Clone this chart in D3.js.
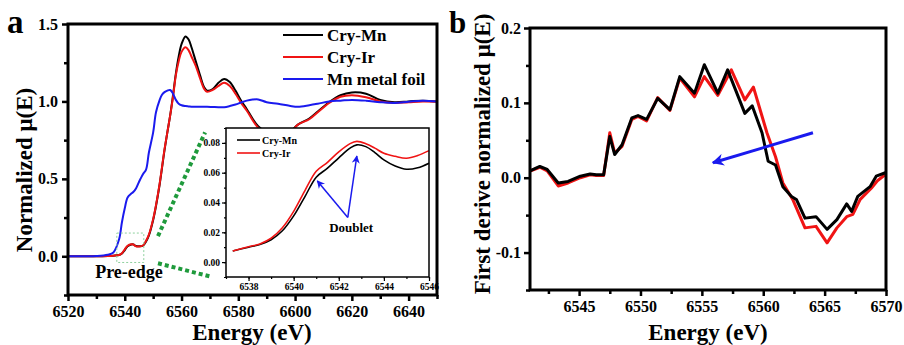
<!DOCTYPE html>
<html><head><meta charset="utf-8">
<script src="https://cdn.jsdelivr.net/npm/d3@7"></script>
<style>
body{margin:0;background:#fff}
svg text{font-family:"Liberation Serif","Times New Roman",serif;font-weight:bold;fill:#000}
</style>
</head><body>
<svg id="c" width="904" height="345"></svg>
<script>
// ---------- Panel a: XANES ----------
const energyA = [6520,6530,6534,6536,6538,6539,6540,6541,6542.3,6543,6544,6545,6546.4,6547.5,6548.5,6550,6551,6552.3,6553,6554,6555,6556,6557,6558,6559,6560,6561.4,6562.5,6563.5,6565,6566.5,6568,6569,6571,6573,6575,6577,6579,6581,6583,6585,6587,6590,6594,6598,6601,6605,6608,6612,6616,6620,6625,6630,6635,6640,6645,6650];
const cryMnA = [0,0,0.002,0.004,0.008,0.018,0.04,0.065,0.076,0.077,0.066,0.065,0.068,0.095,0.135,0.235,0.325,0.465,0.555,0.685,0.8,0.91,1.04,1.18,1.29,1.37,1.42,1.4,1.35,1.26,1.17,1.09,1.07,1.08,1.12,1.145,1.125,1.07,1.005,0.95,0.89,0.84,0.8,0.78,0.8,0.85,0.89,0.935,0.995,1.04,1.058,1.05,1.01,0.995,1.0,1.005,1.0];
const cryIrA = [0,0,0.002,0.004,0.008,0.02,0.045,0.068,0.077,0.076,0.064,0.063,0.07,0.1,0.14,0.24,0.33,0.47,0.56,0.69,0.8,0.91,1.03,1.17,1.26,1.32,1.35,1.33,1.29,1.23,1.15,1.08,1.062,1.074,1.1,1.12,1.1,1.05,0.99,0.94,0.88,0.83,0.79,0.77,0.79,0.85,0.885,0.93,0.99,1.03,1.04,1.027,1.0,0.99,0.995,1.0,0.998];
const foilA = [0,0.002,0.01,0.025,0.11,0.22,0.31,0.38,0.405,0.415,0.44,0.48,0.53,0.56,0.67,0.8,0.93,1.01,1.04,1.06,1.07,1.074,1.05,1.01,0.985,0.975,0.97,0.968,0.966,0.965,0.965,0.965,0.965,0.964,0.963,0.963,0.97,0.98,0.993,1.005,1.012,1.013,0.995,0.985,0.972,0.965,0.975,0.985,1.0,1.005,1.01,1.005,0.995,0.99,0.998,1.005,1.0];
const xTicksA = [6520,6540,6560,6580,6600,6620,6640];
const yTicksA = [0,0.5,1.0,1.5];

// ---------- Inset: pre-edge ----------
const energyInset = [6537.3,6538,6538.5,6539,6539.5,6540,6540.5,6541,6541.5,6542,6542.5,6542.8,6543.2,6543.6,6544,6544.5,6545,6545.5,6546];
const cryMnInset = [0.0075,0.0100,0.0118,0.0150,0.021,0.031,0.044,0.057,0.063,0.070,0.0765,0.0787,0.0775,0.0735,0.0686,0.0645,0.0623,0.0633,0.0664];
const cryIrInset = [0.0075,0.0103,0.0122,0.016,0.023,0.034,0.048,0.061,0.067,0.074,0.0795,0.081,0.0795,0.0765,0.073,0.071,0.0697,0.0715,0.0748];
const xTicksInset = [6538,6540,6542,6544,6546];
const yTicksInset = [0,0.02,0.04,0.06,0.08];

// ---------- Panel b: first derivative ----------
const energyMnB = [6541,6541.8,6542.4,6543.3,6544.1,6545.1,6545.9,6546.4,6547.0,6547.5,6547.9,6548.5,6549.3,6549.8,6550.5,6551.4,6552.4,6553.2,6554.4,6555.2,6556.3,6557.1,6558.5,6559.1,6559.9,6560.4,6561.0,6561.6,6562.3,6562.7,6563.4,6564.3,6565.2,6566.0,6566.8,6567.2,6567.7,6568.7,6569.2,6570];
const cryMnB = [0.009,0.015,0.011,-0.007,-0.005,0.002,0.005,0.004,0.004,0.055,0.031,0.044,0.080,0.083,0.078,0.106,0.091,0.135,0.113,0.151,0.113,0.144,0.086,0.096,0.060,0.022,0.017,-0.012,-0.025,-0.029,-0.054,-0.052,-0.069,-0.056,-0.035,-0.045,-0.025,-0.012,0.002,0.007];
const energyIrB = [6541,6541.8,6542.4,6543.3,6544.1,6545.1,6545.9,6546.4,6547.0,6547.5,6547.9,6548.5,6549.3,6549.8,6550.5,6551.4,6552.4,6553.2,6554.4,6555.2,6556.3,6557.4,6558.5,6559.2,6560.3,6561.0,6561.6,6562.4,6563.4,6564.3,6565.2,6566.0,6566.8,6567.3,6567.9,6568.8,6569.3,6570];
const cryIrB = [0.009,0.014,0.009,-0.011,-0.007,0.0,0.004,0.003,0.003,0.060,0.033,0.042,0.078,0.082,0.076,0.107,0.090,0.133,0.108,0.135,0.110,0.144,0.104,0.121,0.060,0.028,-0.007,-0.029,-0.067,-0.065,-0.087,-0.067,-0.052,-0.049,-0.029,-0.014,-0.004,0.005];
const xTicksB = [6545,6550,6555,6560,6565,6570];
const yTicksB = [-0.1,0.0,0.1,0.2];

const BLACK = "#000", RED = "#f01414", BLUE = "#1a1aee", GREEN = "#1f9a3c";

const svg = d3.select("#c");
const defs = svg.append("defs");
function arrowMarker(id, w, h){
  defs.append("marker").attr("id", id).attr("viewBox", "0 0 10 10")
    .attr("refX", 9).attr("refY", 5).attr("markerUnits", "userSpaceOnUse")
    .attr("markerWidth", w).attr("markerHeight", h).attr("orient", "auto")
    .append("path").attr("d", "M0,0 L10,5 L0,10 L3,5 Z").attr("fill", BLUE);
}
arrowMarker("arrBig", 16, 12);
arrowMarker("arrSmall", 10, 8);

function axes(g, x, y, o){
  const [y0] = y.range(); const [x0] = x.range();
  // minor
  g.append("g").attr("transform", `translate(0,${y0})`)
    .call(d3.axisBottom(x).tickValues(o.xMinor).tickSize(o.minorLen).tickFormat(""))
    .call(s => s.select(".domain").remove());
  g.append("g").attr("transform", `translate(${x0},0)`)
    .call(d3.axisLeft(y).tickValues(o.yMinor).tickSize(o.minorLen).tickFormat(""))
    .call(s => s.select(".domain").remove());
  const xa = g.append("g").attr("transform", `translate(0,${y0})`)
    .call(d3.axisBottom(x).tickValues(o.xTicks).tickSize(o.majorLen).tickPadding(o.xPad).tickFormat(o.xFmt))
    .call(s => s.select(".domain").remove());
  const ya = g.append("g").attr("transform", `translate(${x0},0)`)
    .call(d3.axisLeft(y).tickValues(o.yTicks).tickSize(o.majorLen).tickPadding(o.yPad).tickFormat(o.yFmt))
    .call(s => s.select(".domain").remove());
  g.selectAll(".tick line").attr("stroke", "#000").attr("stroke-width", o.tickW);
  g.selectAll(".tick text").attr("font-size", o.fs).attr("font-family", null).attr("fill", "#000");
  const [xl, xr] = x.range(), [yb, yt] = y.range();
  g.append("rect").attr("x", xl).attr("y", yt).attr("width", xr - xl).attr("height", yb - yt)
    .attr("fill", "none").attr("stroke", "#000").attr("stroke-width", o.frameW);
}
function range(a, b, s){ const r = []; for (let v = a; v <= b + 1e-9; v += s) r.push(+v.toFixed(4)); return r; }

// ===== Panel a =====
const xA = d3.scaleLinear().domain([6520, 6650]).range([68, 437]);
const yA = d3.scaleLinear().domain([-0.25, 1.5]).range([295, 24]);
const gA = svg.append("g");
defs.append("clipPath").attr("id", "clipA").append("rect")
  .attr("x", 68).attr("y", 24).attr("width", 369).attr("height", 271);
const lineA = d3.line().curve(d3.curveCatmullRom.alpha(0.5));
const seriesA = [[cryMnA, BLACK], [cryIrA, RED], [foilA, BLUE]];
seriesA.forEach(([vals, col]) => {
  gA.append("path").attr("clip-path", "url(#clipA)")
    .attr("d", lineA(energyA.map((e, i) => [xA(e), yA(vals[i])])))
    .attr("fill", "none").attr("stroke", col).attr("stroke-width", 2);
});
axes(gA, xA, yA, {xTicks: xTicksA, yTicks: yTicksA, xMinor: range(6530, 6650, 20), yMinor: [-0.25, 0.25, 0.75, 1.25],
  majorLen: 6, minorLen: 4, xPad: 5, yPad: 4, tickW: 2.5, frameW: 3, fs: 16,
  xFmt: d3.format("d"), yFmt: d => d.toFixed(1)});

// pre-edge box and dotted zoom lines
gA.append("rect").attr("x", xA(6537.2)).attr("y", yA(0.15)).attr("width", xA(6546.7) - xA(6537.2))
  .attr("height", yA(-0.04) - yA(0.15)).attr("fill", "none").attr("stroke", "#8fd19e")
  .attr("stroke-width", 1).attr("stroke-dasharray", "2,2");
[[[6551.7, 0.13], [6568.3, 0.80]], [[6551.7, -0.045], [6570.0, -0.13]]].forEach(([p, q]) => {
  gA.append("line").attr("x1", xA(p[0])).attr("y1", yA(p[1])).attr("x2", xA(q[0])).attr("y2", yA(q[1]))
    .attr("stroke", GREEN).attr("stroke-width", 4).attr("stroke-dasharray", "4,3");
});
gA.append("text").attr("x", xA(6541.5)).attr("y", yA(-0.14)).attr("text-anchor", "middle")
  .attr("font-size", 18).text("Pre-edge");

// legend a
const legA = [["Cry-Mn", BLACK], ["Cry-Ir", RED], ["Mn metal foil", BLUE]];
legA.forEach(([t, c], i) => {
  const yy = 35 + i * 22;
  gA.append("line").attr("x1", 283).attr("x2", 323).attr("y1", yy).attr("y2", yy).attr("stroke", c).attr("stroke-width", 2);
  gA.append("text").attr("x", 327).attr("y", yy + 6).attr("font-size", 17).text(t);
});

// ===== Inset =====
const xI = d3.scaleLinear().domain([6537, 6546]).range([226, 429]);
const yI = d3.scaleLinear().domain([-0.01, 0.09]).range([277, 128]);
const gI = svg.append("g");
gI.append("rect").attr("x", 226).attr("y", 128).attr("width", 203).attr("height", 149).attr("fill", "#fff");
const lineI = d3.line().curve(d3.curveCatmullRom.alpha(0.5));
[[cryMnInset, BLACK], [cryIrInset, RED]].forEach(([vals, col]) => {
  gI.append("path").attr("d", lineI(energyInset.map((e, i) => [xI(e), yI(vals[i])])))
    .attr("fill", "none").attr("stroke", col).attr("stroke-width", 1.6);
});
axes(gI, xI, yI, {xTicks: xTicksInset, yTicks: yTicksInset, xMinor: range(6537, 6546, 1), yMinor: range(-0.01, 0.09, 0.01),
  majorLen: 4, minorLen: 2, xPad: 2, yPad: 2, tickW: 1.2, frameW: 1.5, fs: 9.5,
  xFmt: d3.format("d"), yFmt: d => d.toFixed(2)});
[["Cry-Mn", BLACK], ["Cry-Ir", RED]].forEach(([t, c], i) => {
  const yy = 140 + i * 13;
  gI.append("line").attr("x1", 237).attr("x2", 260).attr("y1", yy).attr("y2", yy).attr("stroke", c).attr("stroke-width", 1.6);
  gI.append("text").attr("x", 262).attr("y", yy + 3.5).attr("font-size", 10).text(t);
});
[[6541.05, 0.0545], [6542.8, 0.0712]].forEach(q => {
  gI.append("line").attr("x1", xI(6542.4)).attr("y1", yI(0.030)).attr("x2", xI(q[0])).attr("y2", yI(q[1]))
    .attr("stroke", BLUE).attr("stroke-width", 1.5).attr("marker-end", "url(#arrSmall)");
});
gI.append("text").attr("x", xI(6542.55)).attr("y", yI(0.0205)).attr("text-anchor", "middle")
  .attr("font-size", 13).text("Doublet");

// axis titles a
svg.append("text").attr("x", 252).attr("y", 340).attr("text-anchor", "middle").attr("font-size", 23).text("Energy (eV)");
svg.append("text").attr("transform", "translate(32,170) rotate(-90)").attr("text-anchor", "middle")
  .attr("font-size", 23).text("Normalized μ(E)");
svg.append("text").attr("x", 7).attr("y", 33).attr("font-size", 33).text("a");

// ===== Panel b =====
const xB = d3.scaleLinear().domain([6541, 6570]).range([530, 886]);
const yB = d3.scaleLinear().domain([-0.15, 0.2]).range([290, 28]);
const gB = svg.append("g");
const lineB = d3.line();
[[energyIrB, cryIrB, RED], [energyMnB, cryMnB, BLACK]].forEach(([es, vals, col]) => {
  gB.append("path").attr("d", lineB(es.map((e, i) => [xB(e), yB(vals[i])])))
    .attr("fill", "none").attr("stroke", col).attr("stroke-width", 3).attr("stroke-linejoin", "round");
});
axes(gB, xB, yB, {xTicks: xTicksB, yTicks: yTicksB, xMinor: range(6542.5, 6567.5, 5), yMinor: [-0.15, -0.05, 0.05, 0.15],
  majorLen: 6, minorLen: 4, xPad: 5, yPad: 3, tickW: 2.5, frameW: 3, fs: 16,
  xFmt: d3.format("d"), yFmt: d => d.toFixed(1)});
gB.append("line").attr("x1", xB(6564.05)).attr("y1", yB(0.06)).attr("x2", xB(6555.9)).attr("y2", yB(0.02))
  .attr("stroke", BLUE).attr("stroke-width", 3).attr("marker-end", "url(#arrBig)");
svg.append("text").attr("x", 708).attr("y", 340).attr("text-anchor", "middle").attr("font-size", 23).text("Energy (eV)");
svg.append("text").attr("transform", "translate(490,154) rotate(-90)").attr("text-anchor", "middle")
  .attr("font-size", 23).text("First derive normalized μ(E)");
svg.append("text").attr("x", 449).attr("y", 33).attr("font-size", 31).text("b");
</script>
</body></html>
